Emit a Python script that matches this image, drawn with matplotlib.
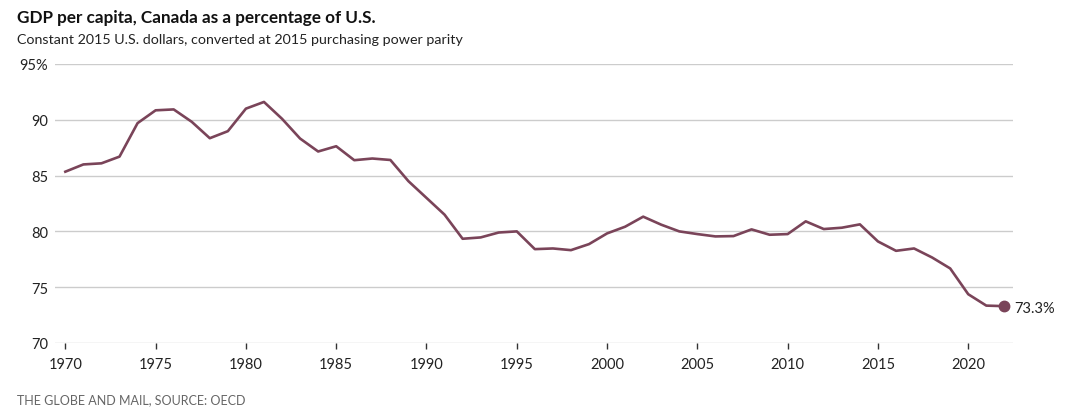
import matplotlib
matplotlib.use('Agg')
import matplotlib.pyplot as plt

plt.rcParams['font.family'] = ['Lato', 'DejaVu Sans']

# Canada GDP per capita as % of U.S.
years = list(range(1970, 2023))
pct = [85.35, 86.0, 86.1, 86.7, 89.7, 90.85, 90.93, 89.82, 88.35, 88.98,
       91.0, 91.6, 90.09, 88.32, 87.16, 87.63, 86.38, 86.53, 86.4, 84.5,
       83.0, 81.5, 79.34, 79.46, 79.9, 80.0, 78.41, 78.47, 78.32, 78.86,
       79.82, 80.42, 81.32, 80.6, 80.0, 79.76, 79.55, 79.58, 80.18, 79.7,
       79.76, 80.9, 80.21, 80.33, 80.63, 79.1, 78.26, 78.47, 77.66, 76.68,
       74.37, 73.35, 73.3]
yticks = [70, 75, 80, 85, 90, 95]
ytick_labels = ['70', '75', '80', '85', '90', '95%']
xticks = [1970, 1975, 1980, 1985, 1990, 1995, 2000, 2005, 2010, 2015, 2020]

line_color = '#7a4459'
grid_color = '#cccccc'
text_color = '#222222'

fig = plt.figure(figsize=(10.77, 4.14), dpi=100)
ax = fig.add_axes([0.0511, 0.1691, 0.8895, 0.6739])

ax.plot(years, pct, color=line_color, lw=1.9, solid_joinstyle='round', zorder=3)
ax.plot(years[-1], pct[-1], 'o', color=line_color, ms=7.5, zorder=4)
ax.annotate('%.1f%%' % pct[-1], (years[-1], pct[-1]), xytext=(7, -1),
            textcoords='offset points', va='center', ha='left',
            fontsize=10.5, color=text_color, annotation_clip=False)

ax.set_xlim(1969.43, 2022.48)
ax.set_ylim(70, 95)
ax.set_yticks(yticks)
ax.set_yticklabels(ytick_labels)
ax.set_xticks(xticks)
ax.grid(axis='y', color=grid_color, lw=1)
ax.set_axisbelow(True)
for s in ['top', 'right', 'left', 'bottom']:
    ax.spines[s].set_visible(False)
ax.tick_params(axis='y', length=0, pad=5, labelsize=10.5, labelcolor=text_color)
ax.tick_params(axis='x', length=4, width=1, color='#333333', pad=6,
               labelsize=10.5, labelcolor=text_color, direction='out')

fig.text(17 / 1077, 1 - 18 / 414, 'GDP per capita, Canada as a percentage of U.S.',
         fontsize=12.3, fontweight='bold', color='#111111', va='center', ha='left')
fig.text(17 / 1077, 1 - 40 / 414,
         'Constant 2015 U.S. dollars, converted at 2015 purchasing power parity',
         fontsize=10.3, color=text_color, va='center', ha='left')
fig.text(17 / 1077, 1 - 400 / 414, 'THE GLOBE AND MAIL, SOURCE: OECD',
         fontsize=9, color='#666666', va='center', ha='left')

fig.savefig('out.png', dpi=100, facecolor='white')
